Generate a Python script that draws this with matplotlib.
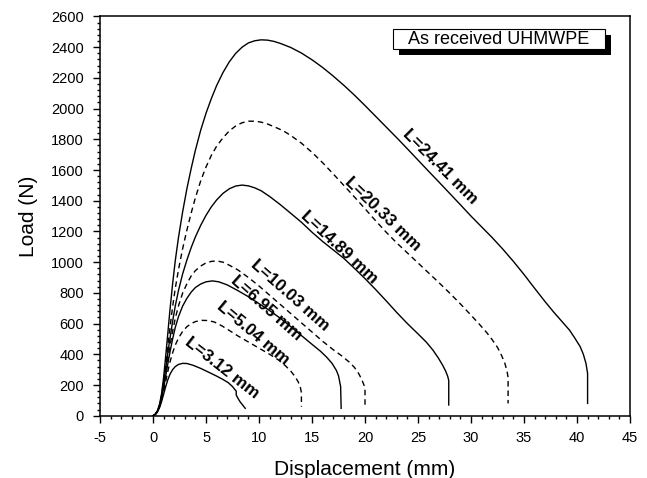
import matplotlib
matplotlib.use("Agg")
import matplotlib.pyplot as plt
from matplotlib.patches import Rectangle
from matplotlib import transforms
from matplotlib.ticker import MultipleLocator

plt.rcParams['font.family'] = ['Liberation Sans', 'DejaVu Sans']
plt.rcParams['axes.unicode_minus'] = False

# ---- data ----
x_2441 = [0, 0.2, 0.4, 0.6, 0.8, 1.0, 1.2, 1.4, 1.6, 1.85, 2.1, 2.4, 2.8, 3.2, 3.6, 4.0,
          4.5, 5.0, 5.5, 6.0, 6.6, 7.2, 7.8, 8.4, 9.0, 9.6, 10.2, 10.8, 11.4, 12.0, 13.0,
          14.0, 15.0, 16.0, 17.0, 18.0, 19.0, 20.0, 21.0, 22.0, 23.0, 24.0, 25.0, 26.0,
          27.0, 28.0, 29.0, 30.0, 31.0, 32.0, 33.0, 34.0, 35.0, 36.0, 37.0, 37.8, 38.5,
          39.3, 39.8, 40.3, 40.6, 40.85, 41.0, 41.0]
y_2441 = [0, 8, 30, 70, 140, 250, 390, 540, 690, 860, 1010, 1160, 1330, 1480, 1610, 1730,
          1860, 1970, 2065, 2150, 2235, 2305, 2360, 2400, 2428, 2442, 2448, 2446, 2438, 2425,
          2398, 2362, 2318, 2268, 2212, 2152, 2088, 2020, 1950, 1880, 1810, 1738, 1665, 1592,
          1520, 1447, 1374, 1300, 1230, 1160, 1085, 1005, 920, 830, 742, 675, 620,
          557, 505, 450, 400, 340, 276, 80]

x_2033 = [0, 0.2, 0.4, 0.6, 0.8, 1.0, 1.2, 1.4, 1.6, 1.85, 2.1, 2.4, 2.8, 3.2, 3.6, 4.0,
          4.5, 5.0, 5.5, 6.0, 6.6, 7.2, 7.8, 8.4, 9.0, 9.6, 10.2, 10.8, 11.5, 12.3, 13.0,
          14.0, 15.0, 16.0, 17.0, 18.0, 19.0, 20.0, 21.0, 22.0, 23.0, 24.0, 25.0, 26.0,
          27.0, 28.0, 29.0, 30.0, 30.8, 31.5, 32.0, 32.5, 32.9, 33.2, 33.4, 33.5, 33.5]
y_2033 = [0, 8, 28, 65, 130, 225, 340, 460, 575, 710, 830, 950, 1090, 1210, 1320, 1420,
          1530, 1620, 1695, 1755, 1810, 1855, 1887, 1908, 1918, 1918, 1912, 1900, 1880, 1855,
          1825, 1775, 1715, 1648, 1575, 1500, 1425, 1348, 1270, 1195, 1125, 1060, 995, 930,
          865, 798, 728, 655, 595, 540, 495, 445, 390, 340, 290, 250, 80]

x_1489 = [0, 0.2, 0.4, 0.6, 0.8, 1.0, 1.2, 1.4, 1.6, 1.85, 2.1, 2.4, 2.8, 3.2, 3.6, 4.0,
          4.5, 5.0, 5.5, 6.0, 6.6, 7.2, 7.8, 8.4, 9.0, 9.6, 10.2, 11.0, 12.0, 13.0, 14.0,
          15.0, 16.0, 17.0, 18.0, 19.0, 20.0, 21.0, 22.0, 23.0, 24.0, 25.0, 25.8, 26.4,
          26.9, 27.3, 27.6, 27.8, 27.9, 27.9]
y_1489 = [0, 8, 27, 62, 125, 210, 310, 410, 505, 615, 715, 815, 925, 1015, 1095, 1165,
          1240, 1305, 1360, 1405, 1448, 1478, 1496, 1502, 1497, 1484, 1465, 1428, 1375, 1318,
          1260, 1195, 1135, 1080, 1025, 960, 893, 822, 748, 672, 600, 533, 478, 428,
          378, 332, 292, 257, 230, 70]

x_1003 = [0, 0.2, 0.4, 0.6, 0.8, 1.0, 1.2, 1.4, 1.6, 1.85, 2.1, 2.4, 2.8, 3.2, 3.6, 4.0,
          4.5, 5.0, 5.5, 6.0, 6.6, 7.2, 8.0, 9.0, 10.0, 11.0, 12.0, 13.0, 14.0, 15.0, 16.0,
          17.0, 17.8, 18.5, 19.0, 19.4, 19.7, 19.9, 20.0, 20.0]
y_1003 = [0, 8, 26, 60, 115, 190, 280, 370, 455, 550, 635, 715, 800, 860, 910, 945,
          975, 995, 1005, 1008, 1000, 980, 950, 900, 845, 785, 725, 665, 605, 545, 485,
          430, 390, 350, 315, 275, 235, 200, 170, 48]

x_695 = [0, 0.2, 0.4, 0.6, 0.8, 1.0, 1.2, 1.4, 1.6, 1.85, 2.1, 2.4, 2.8, 3.2, 3.6, 4.0,
         4.5, 5.0, 5.6, 6.2, 7.0, 8.0, 9.0, 10.0, 11.0, 12.0, 13.0, 14.0, 15.0, 15.8, 16.4,
         16.9, 17.3, 17.5, 17.6, 17.7, 17.75]
y_695 = [0, 8, 26, 58, 110, 180, 260, 340, 415, 500, 575, 645, 715, 765, 805, 835,
         858, 872, 878, 872, 852, 815, 775, 730, 685, 635, 580, 522, 465, 420, 380,
         340, 295, 260, 225, 190, 48]

x_504 = [0, 0.2, 0.4, 0.6, 0.8, 1.0, 1.2, 1.4, 1.6, 1.85, 2.1, 2.4, 2.8, 3.2, 3.6, 4.0,
         4.6, 5.2, 5.8, 6.5, 7.2, 8.0, 9.0, 10.0, 11.0, 11.8, 12.5, 13.0, 13.4, 13.7, 13.9,
         14.0, 14.0]
y_504 = [0, 8, 25, 55, 100, 160, 225, 290, 350, 410, 460, 505, 550, 580, 600, 613,
         621, 620, 610, 585, 555, 520, 480, 440, 400, 365, 325, 290, 255, 220, 185,
         150, 59]

x_312 = [0, 0.2, 0.4, 0.6, 0.8, 1.0, 1.2, 1.4, 1.6, 1.85, 2.1, 2.4, 2.8, 3.2, 3.8, 4.5,
         5.2, 6.0, 6.6, 7.1, 7.5, 7.7, 7.85, 7.85, 8.0, 8.2, 8.45, 8.7]
y_312 = [0, 7, 22, 50, 90, 140, 190, 235, 270, 300, 320, 334, 341, 340, 328, 308,
         285, 258, 236, 215, 190, 172, 160, 135, 115, 92, 70, 48]

series = [
    (x_2441, y_2441, 'solid'),
    (x_2033, y_2033, 'dashed'),
    (x_1489, y_1489, 'solid'),
    (x_1003, y_1003, 'dashed'),
    (x_695, y_695, 'solid'),
    (x_504, y_504, 'dashed'),
    (x_312, y_312, 'solid'),
]

label_texts = ['L=24.41 mm', 'L=20.33 mm', 'L=14.89 mm', 'L=10.03 mm',
               'L=6.95 mm', 'L=5.04 mm', 'L=3.12 mm']
label_x = [27.1, 21.7, 17.6, 12.9, 10.7, 9.46, 6.48]
label_y = [1619, 1311, 1099, 785, 698, 536, 308]
label_rot = [-45, -44, -43, -41.5, -41.5, -40, -38]

x_ticks = list(range(-5, 50, 5))
y_ticks = list(range(0, 2800, 200))

# ---- figure ----
fig = plt.figure(figsize=(6.47, 4.78), dpi=100)
ax = fig.add_axes([0.1546, 0.1303, 0.8191, 0.8352])

for xs, ys, style in series:
    if style == 'dashed':
        ax.plot(xs, ys, color='black', lw=1.0, dashes=(4, 2.8))
    else:
        ax.plot(xs, ys, color='black', lw=1.0)

for t, lx, ly, r in zip(label_texts, label_x, label_y, label_rot):
    ax.text(lx, ly, t, rotation=r, rotation_mode='anchor', ha='center', va='center',
            fontsize=12.3, fontweight='bold')

ax.set_xlim(-5, 45)
ax.set_ylim(0, 2600)
ax.set_xticks(x_ticks)
ax.set_yticks(y_ticks)
ax.xaxis.set_minor_locator(MultipleLocator(1))
ax.yaxis.set_minor_locator(MultipleLocator(40))
ax.tick_params(which='major', direction='out', length=4.7, width=1.0, labelsize=10.5)
ax.tick_params(axis='x', which='major', pad=6)
ax.tick_params(axis='y', which='major', pad=7)
ax.tick_params(which='minor', direction='out', length=2.5, width=1.0)
for s in ax.spines.values():
    s.set_linewidth(1.1)

ax.set_xlabel('Displacement (mm)', fontsize=15)
ax.set_ylabel('Load (N)', fontsize=15)
ax.xaxis.set_label_coords(0.5, -0.112)
ax.yaxis.set_label_coords(-0.117, 0.5)

# annotation box with shadow
bx, by, bw, bh = 0.553, 0.918, 0.400, 0.050
shadow_tr = transforms.offset_copy(ax.transAxes, fig=fig, x=6, y=-6, units='dots')
ax.add_patch(Rectangle((bx, by), bw, bh, transform=shadow_tr, facecolor='black',
                       edgecolor='black', lw=0, zorder=5, clip_on=False))
ax.add_patch(Rectangle((bx, by), bw, bh, transform=ax.transAxes, facecolor='white',
                       edgecolor='black', lw=0.8, zorder=6, clip_on=False))
ax.text(bx + bw / 2, by + bh / 2, 'As received UHMWPE', transform=ax.transAxes,
        ha='center', va='center', fontsize=13, zorder=7)

fig.savefig('out.png', dpi=100)
